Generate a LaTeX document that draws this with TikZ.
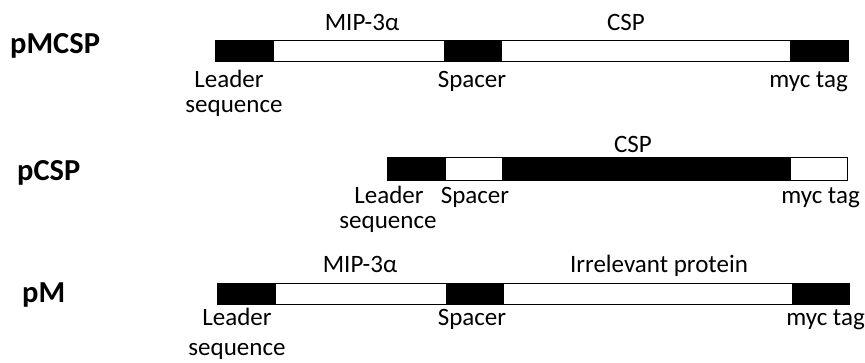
\documentclass[tikz,border=0pt]{standalone}
\usepackage{fontspec}
\setmainfont{Carlito}
\tikzset{
  seg/.style={draw=black,line width=.8pt},
  lab/.style={anchor=base,inner sep=0pt,font=\fontsize{25}{30}\selectfont},
  plasmid/.style={anchor=base west,inner sep=0pt,font=\fontsize{30.5}{36}\selectfont\bfseries},
}
\begin{document}
\begin{tikzpicture}[x=1pt,y=-1pt]
\useasboundingbox (0,0) rectangle (865,362);
% bars
\foreach \l/\r/\c/\t/\b in {215/273/black/40/61,273/444/white/40/61,444/501/black/40/61,501/790/white/40/61,790/848/black/40/61,
  387/445/black/157/180,445/502/white/157/180,502/790/black/157/180,790/847/white/157/180,
  217/275/black/283/304,275/446/white/283/304,446/503/black/283/304,503/792/white/283/304,792/849/black/283/304}
  \draw[seg,fill=\c](\l,\t) rectangle (\r,\b);
% pMCSP
\node[plasmid] (pmcsp) at (10,53) {pMCSP};
\node[lab] (mip1) at (362,30) {MIP-3α};
\node[lab] (csp1) at (626,30) {CSP};
\node[lab] (lead1) at (229,87) {Leader};
\node[lab] (seq1) at (234,112) {sequence};
\node[lab] (spc1) at (472,87) {Spacer};
\node[lab,anchor=base east] (myc1) at (848,87) {myc tag};
% pCSP
\node[plasmid] (pcsp) at (17,180) {pCSP};
\node[lab] (csp2) at (633,152) {CSP};
\node[lab] (lead2) at (389,203) {Leader};
\node[lab] (seq2) at (388,228) {sequence};
\node[lab] (spc2) at (475,203) {Spacer};
\node[lab,anchor=base east] (myc2) at (860,203) {myc tag};
% pM
\node[plasmid] (pm) at (22,302) {pM};
\node[lab] (mip3) at (360,272) {MIP-3α};
\node[lab] (irr3) at (659,272) {Irrelevant protein};
\node[lab] (lead3) at (237,325) {Leader};
\node[lab] (seq3) at (237,355) {sequence};
\node[lab] (spc3) at (472,325) {Spacer};
\node[lab,anchor=base east] (myc3) at (865,325) {myc tag};
\end{tikzpicture}
\end{document}
